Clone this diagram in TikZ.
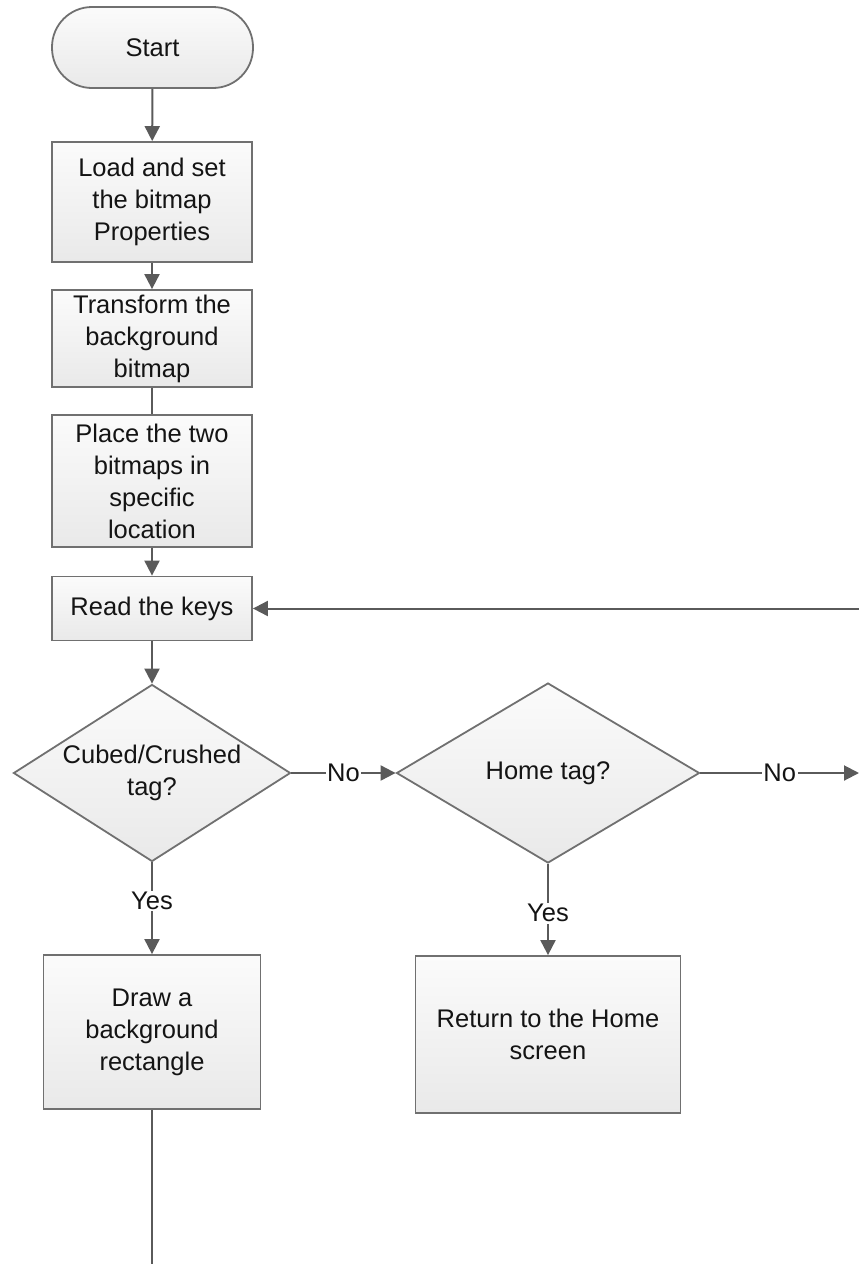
\documentclass[tikz,border=0pt]{standalone}
\usepackage{fontspec}
\setmainfont{Liberation Sans}
\usetikzlibrary{shapes.geometric,arrows.meta}
\definecolor{edgegray}{HTML}{5A5A5A}
\definecolor{bordergray}{HTML}{707070}
\definecolor{filltop}{HTML}{FBFBFB}
\definecolor{fillbot}{HTML}{E9E9E9}
\definecolor{txt}{HTML}{141414}
\begin{document}
\begin{tikzpicture}[x=1pt,y=-1pt,
  base/.style={draw=bordergray, line width=1.8pt, top color=filltop, bottom color=fillbot,
    text=txt, font=\fontsize{25.5}{32}\selectfont, align=center, inner sep=0pt},
  procbox/.style={base, rectangle},
  term/.style={base, rectangle, rounded corners=40pt},
  decision/.style={base, diamond, aspect=1.6},
  conn/.style={draw=edgegray, line width=2pt, -{Triangle[length=15pt,width=15pt]}},
  plainline/.style={draw=edgegray, line width=2pt},
  lbl/.style={fill=white, inner sep=1.5pt, text=txt, font=\fontsize{25.5}{32}\selectfont}
]
\useasboundingbox (0,0) rectangle (859,1264);

\node[term, minimum width=201pt, minimum height=81pt] (start) at (152.5,47.5) {Start};
\node[procbox, minimum width=200pt, minimum height=120pt] (b1) at (152,202) {Load and set\\the bitmap\\Properties};
\node[procbox, minimum width=200pt, minimum height=97pt] (b2) at (152,338.5) {Transform the\\background\\bitmap};
\node[procbox, minimum width=200pt, minimum height=132pt] (b3) at (152,481) {Place the two\\bitmaps in\\specific\\location};
\node[procbox, minimum width=200pt, minimum height=64pt] (b4) at (152,608.5) {Read the keys};
\node[decision, minimum width=277pt, minimum height=177pt] (d1) at (152,773) {Cubed/Crushed\\tag?};
\node[decision, minimum width=303pt, minimum height=180pt] (d2) at (548,773) {Home tag?};
\node[procbox, minimum width=217pt, minimum height=154pt] (b5) at (152,1032) {Draw a\\background\\rectangle};
\node[procbox, minimum width=265pt, minimum height=157pt] (b6) at (548,1034.5) {Return to the Home\\screen};

\coordinate (rend) at (859,773);
\coordinate (fbstart) at (859,608.5);
\coordinate (bend) at (152,1264);

\draw[conn] (start) -- (b1);
\draw[conn] (b1) -- (b2);
\draw[plainline] (b2) -- (b3);
\draw[conn] (b3) -- (b4);
\draw[conn] (b4) -- (d1);
\draw[conn] (d1) -- node[lbl]{No} (d2);
\draw[conn] (d2) -- node[lbl]{No} (rend);
\draw[conn] (fbstart) -- (b4);
\draw[conn] (d1) -- node[lbl, pos=0.42]{Yes} (b5);
\draw[conn] (d2) -- node[lbl, pos=0.54]{Yes} (b6);
\draw[plainline] (b5) -- (bend);
\end{tikzpicture}
\end{document}
